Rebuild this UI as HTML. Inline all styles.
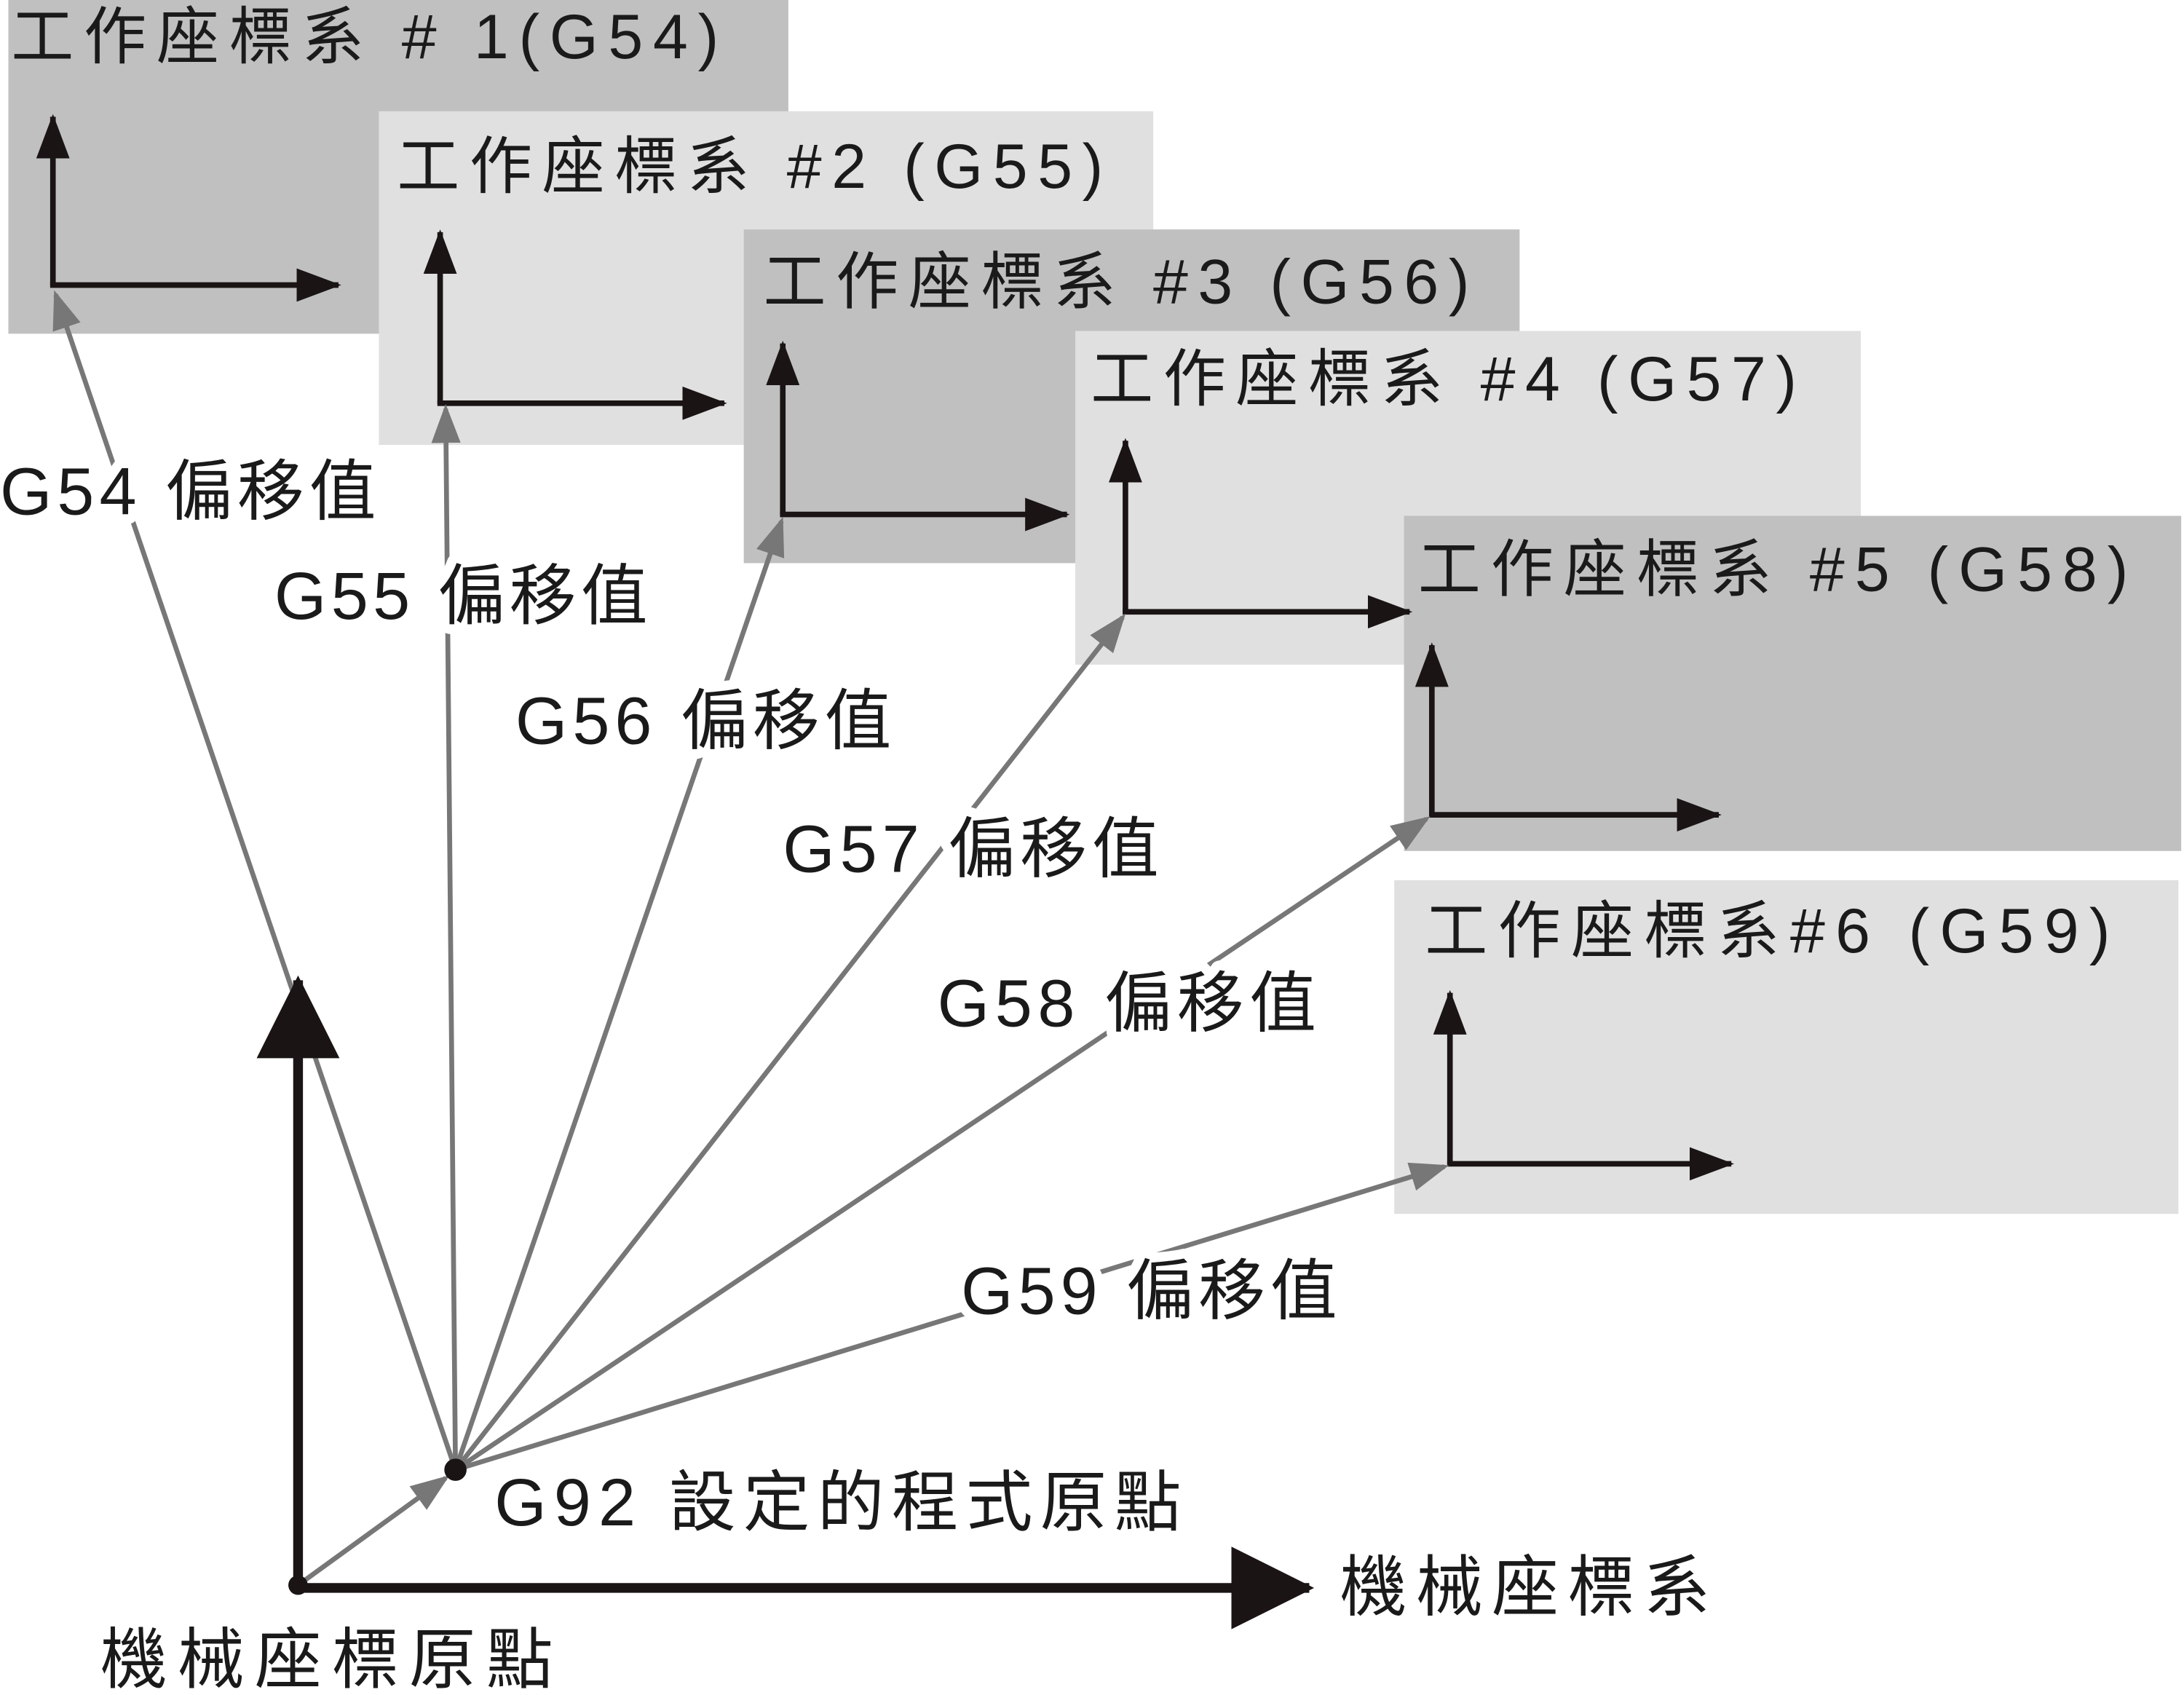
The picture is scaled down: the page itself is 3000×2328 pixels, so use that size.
<!DOCTYPE html>
<html><head><meta charset="utf-8"><style>html,body{margin:0;padding:0;background:#fff}svg{display:block}
text{font-family:"Liberation Sans","Noto Sans CJK TC",sans-serif;fill:#1a1a1a}
.t{font-size:45px}.l{font-size:48px;stroke:#fff;stroke-width:14px;paint-order:stroke;stroke-linejoin:round}</style></head>
<body>
<svg width="3000" height="2328" viewBox="0 0 1568 1219" preserveAspectRatio="none" xmlns="http://www.w3.org/2000/svg">
<defs>
<marker id="g" markerWidth="8" markerHeight="6" refX="7" refY="3" orient="auto" markerUnits="strokeWidth"><path d="M0,0L8,3L0,6z" fill="#777"/></marker>
<marker id="b" markerWidth="8" markerHeight="6" refX="7.5" refY="3" orient="auto" markerUnits="strokeWidth"><path d="M0,0L8,3L0,6z" fill="#1a1414"/></marker>
<marker id="B" markerWidth="8.5" markerHeight="8.5" refX="8" refY="4.25" orient="auto" markerUnits="strokeWidth"><path d="M0,0L8.5,4.25L0,8.5z" fill="#1a1414"/></marker>
</defs>
<rect x="6" y="0" width="560" height="240" fill="#c0c0c0"/>
<rect x="272" y="80" width="556" height="240" fill="#e0e0e0"/>
<rect x="534" y="165" width="557" height="240" fill="#c0c0c0"/>
<rect x="772" y="238" width="564" height="240" fill="#e0e0e0"/>
<rect x="1008" y="371" width="558" height="241" fill="#c0c0c0"/>
<rect x="1001" y="633" width="563" height="240" fill="#e0e0e0"/>
<text class="t" x="8" y="42" textLength="508">工作座標系 # 1(G54)</text>
<text class="t" x="285" y="135" textLength="507">工作座標系 #2 (G55)</text>
<text class="t" x="548" y="218" textLength="507">工作座標系 #3 (G56)</text>
<text class="t" x="783" y="288" textLength="507">工作座標系 #4 (G57)</text>
<text class="t" x="1018" y="425" textLength="510">工作座標系 #5 (G58)</text>
<text class="t" x="1023" y="685" textLength="492">工作座標系#6 (G59)</text>
<g stroke="#1a1414" stroke-width="4" fill="none">
<path d="M38,205V84" marker-end="url(#b)"/><path d="M36,205H243" marker-end="url(#b)"/>
<path d="M316,290V167" marker-end="url(#b)"/><path d="M314,290H520" marker-end="url(#b)"/>
<path d="M562,370V247" marker-end="url(#b)"/><path d="M560,370H766" marker-end="url(#b)"/>
<path d="M808,440V317" marker-end="url(#b)"/><path d="M806,440H1012" marker-end="url(#b)"/>
<path d="M1028,586V464" marker-end="url(#b)"/><path d="M1026,586H1234" marker-end="url(#b)"/>
<path d="M1041,837V714" marker-end="url(#b)"/><path d="M1039,837H1243" marker-end="url(#b)"/>
</g>
<g stroke="#777" stroke-width="3.5" fill="none">
<path d="M214,1140L320,1063" marker-end="url(#g)"/>
<path d="M327,1057L40,212" marker-end="url(#g)"/>
<path d="M327,1057L320,294" marker-end="url(#g)"/>
<path d="M327,1057L561,375" marker-end="url(#g)"/>
<path d="M327,1057L806,444" marker-end="url(#g)"/>
<path d="M327,1057L1024,589" marker-end="url(#g)"/>
<path d="M327,1057L1037,839" marker-end="url(#g)"/>
</g>
<g stroke="#1a1414" stroke-width="7" fill="none">
<path d="M214,1142V705" marker-end="url(#B)"/>
<path d="M211,1142H940" marker-end="url(#B)"/>
</g>
<circle cx="214" cy="1140" r="7" fill="#1a1414"/>
<circle cx="327" cy="1057" r="8" fill="#1a1414"/>
<text class="l" x="0" y="370" textLength="270">G54 偏移值</text>
<text class="l" x="197" y="445" textLength="268">G55 偏移值</text>
<text class="l" x="370" y="535" textLength="270">G56 偏移值</text>
<text class="l" x="562" y="627" textLength="270">G57 偏移值</text>
<text class="l" x="673" y="738" textLength="272">G58 偏移值</text>
<text class="l" x="690" y="945" textLength="270">G59 偏移值</text>
<text class="l" x="355" y="1097" textLength="493">G92 設定的程式原點</text>
<text class="l" x="962" y="1158" textLength="266">機械座標系</text>
<text class="l" x="72" y="1210" textLength="325">機械座標原點</text>
</svg>
</body></html>
